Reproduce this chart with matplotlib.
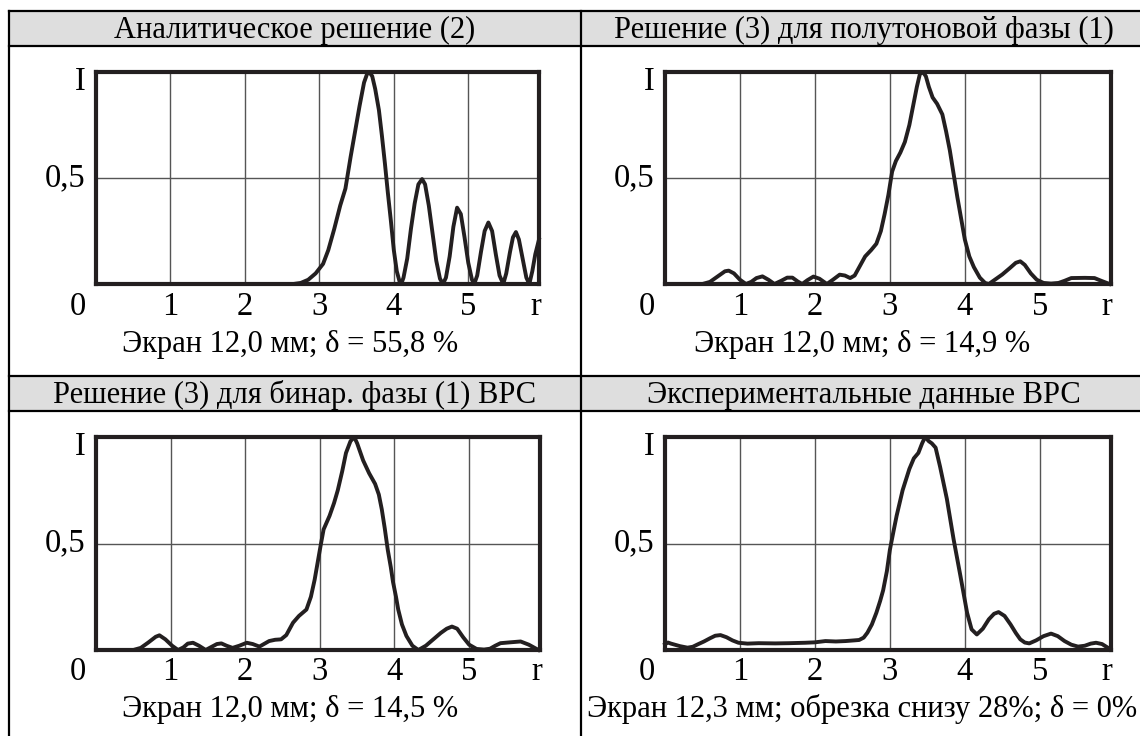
import numpy as np
import matplotlib.pyplot as plt
from matplotlib.lines import Line2D
from matplotlib.patches import Rectangle
import matplotlib.transforms as mtransforms

plt.rcParams['font.family'] = ['Liberation Serif', 'DejaVu Serif']

W, H = 1140, 736

# --- data ---
titles = ['Аналитическое решение (2)',
          'Решение (3) для полутоновой фазы (1)',
          'Решение (3) для бинар. фазы (1) ВРС',
          'Экспериментальные данные ВРС']
captions = ['Экран 12,0 мм; δ = 55,8 %',
            'Экран 12,0 мм; δ = 14,9 %',
            'Экран 12,0 мм; δ = 14,5 %',
            'Экран 12,3 мм; обрезка снизу 28%; δ = 0%']
xtick_vals = [1, 2, 3, 4, 5]
xtick_labels = ['1', '2', '3', '4', '5']

r1 = [0, 2.65, 2.75, 2.85, 2.95, 3.05, 3.12, 3.2, 3.28, 3.35, 3.42, 3.48, 3.54,
      3.6, 3.64, 3.67, 3.71, 3.75, 3.8, 3.84, 3.88, 3.92, 3.96, 4.0, 4.04, 4.08,
      4.1, 4.13, 4.18, 4.23, 4.28, 4.33, 4.38, 4.42, 4.47, 4.52, 4.57, 4.62,
      4.66, 4.7, 4.75, 4.8, 4.85, 4.9, 4.95, 5.0, 5.05, 5.08, 5.12, 5.17, 5.22,
      5.27, 5.32, 5.37, 5.42, 5.47, 5.51, 5.56, 5.6, 5.64, 5.68, 5.73, 5.78,
      5.82, 5.86, 5.9, 5.95]
i1 = [0, 0, 0.005, 0.02, 0.05, 0.095, 0.16, 0.26, 0.37, 0.45, 0.6, 0.72, 0.84,
      0.95, 0.99, 1.0, 0.98, 0.92, 0.82, 0.7, 0.57, 0.43, 0.3, 0.16, 0.06, 0.008,
      0.0, 0.03, 0.12, 0.26, 0.38, 0.47, 0.495, 0.47, 0.37, 0.24, 0.11, 0.025,
      0.0, 0.03, 0.13, 0.27, 0.36, 0.33, 0.22, 0.1, 0.02, 0.0, 0.04, 0.15, 0.25,
      0.29, 0.25, 0.14, 0.04, 0.0, 0.05, 0.15, 0.22, 0.245, 0.21, 0.12, 0.03,
      0.0, 0.06, 0.14, 0.21]

r2 = [0, 0.5, 0.6, 0.7, 0.8, 0.85, 0.92, 1.0, 1.08, 1.15, 1.22, 1.3, 1.38, 1.46,
      1.55, 1.63, 1.7, 1.77, 1.83, 1.9, 1.98, 2.06, 2.16, 2.24, 2.33, 2.4, 2.47,
      2.53, 2.6, 2.67, 2.75, 2.82, 2.88, 2.93, 2.98, 3.03, 3.08, 3.14, 3.2, 3.26,
      3.31, 3.36, 3.4, 3.44, 3.48, 3.52, 3.57, 3.63, 3.7, 3.75, 3.8, 3.85, 3.9,
      3.95, 4.0, 4.06, 4.12, 4.2, 4.27, 4.32, 4.4, 4.5, 4.6, 4.68, 4.74, 4.8,
      4.88, 4.96, 5.05, 5.15, 5.25, 5.33, 5.42, 5.6, 5.73, 5.82, 5.93]
i2 = [0, 0, 0.01, 0.035, 0.06, 0.063, 0.05, 0.02, 0.0, 0.01, 0.028, 0.036, 0.02,
      0.0, 0.015, 0.03, 0.03, 0.012, 0.0, 0.018, 0.035, 0.025, 0.0, 0.02, 0.044,
      0.04, 0.028, 0.04, 0.085, 0.13, 0.16, 0.19, 0.25, 0.33, 0.42, 0.53, 0.58,
      0.62, 0.67, 0.75, 0.84, 0.93, 0.99, 1.0, 0.98, 0.93, 0.88, 0.85, 0.8,
      0.72, 0.63, 0.52, 0.41, 0.31, 0.21, 0.13, 0.08, 0.03, 0.005, 0.0, 0.02,
      0.045, 0.075, 0.1, 0.107, 0.09, 0.05, 0.02, 0.005, 0.002, 0.005, 0.015,
      0.028, 0.029, 0.028, 0.015, 0.0]

r3 = [0, 0.5, 0.6, 0.7, 0.8, 0.85, 0.93, 1.02, 1.1, 1.17, 1.23, 1.3, 1.38, 1.47,
      1.55, 1.62, 1.68, 1.75, 1.83, 1.92, 2.02, 2.1, 2.19, 2.26, 2.32, 2.4, 2.48,
      2.55, 2.64, 2.72, 2.82, 2.88, 2.93, 2.97, 3.01, 3.05, 3.13, 3.19, 3.24,
      3.3, 3.35, 3.41, 3.46, 3.5, 3.54, 3.58, 3.66, 3.74, 3.79, 3.83, 3.87, 3.91,
      3.95, 3.98, 4.02, 4.05, 4.1, 4.16, 4.24, 4.32, 4.42, 4.52, 4.62, 4.7, 4.77,
      4.84, 4.92, 5.0, 5.1, 5.2, 5.28, 5.35, 5.42, 5.55, 5.69, 5.8, 5.93]
i3 = [0, 0, 0.01, 0.035, 0.062, 0.069, 0.05, 0.02, 0.0, 0.012, 0.03, 0.034,
      0.02, 0.0, 0.015, 0.028, 0.031, 0.02, 0.01, 0.02, 0.034, 0.028, 0.016,
      0.03, 0.042, 0.048, 0.05, 0.07, 0.128, 0.16, 0.19, 0.25, 0.33, 0.41, 0.49,
      0.566, 0.63, 0.69, 0.75, 0.84, 0.925, 0.98, 1.0, 0.97, 0.93, 0.89, 0.83,
      0.78, 0.73, 0.66, 0.57, 0.47, 0.39, 0.32, 0.25, 0.19, 0.12, 0.066, 0.02,
      0.0, 0.02, 0.05, 0.08, 0.1, 0.11, 0.1, 0.06, 0.025, 0.005, 0.002, 0.006,
      0.02, 0.032, 0.036, 0.04, 0.025, 0.0]

r4 = [0, 0.04, 0.08, 0.13, 0.2, 0.3, 0.37, 0.44, 0.52, 0.6, 0.67, 0.74, 0.82,
      0.9, 0.98, 1.1, 1.25, 1.47, 1.65, 1.87, 2.0, 2.14, 2.28, 2.41, 2.52, 2.59,
      2.65, 2.7, 2.76, 2.82, 2.87, 2.91, 2.96, 3.0, 3.05, 3.09, 3.17, 3.26, 3.32,
      3.38, 3.43, 3.47, 3.52, 3.56, 3.61, 3.67, 3.76, 3.85, 3.94, 4.03, 4.09,
      4.16, 4.24, 4.32, 4.39, 4.45, 4.53, 4.61, 4.68, 4.74, 4.8, 4.86, 4.95,
      5.05, 5.15, 5.24, 5.33, 5.42, 5.51, 5.6, 5.68, 5.75, 5.83, 5.93]
i4 = [0.027, 0.035, 0.03, 0.025, 0.018, 0.011, 0.015, 0.027, 0.04, 0.055,
      0.067, 0.07, 0.06, 0.045, 0.034, 0.03, 0.032, 0.031, 0.032, 0.034, 0.036,
      0.042, 0.04, 0.042, 0.045, 0.047, 0.058, 0.081, 0.12, 0.175, 0.23, 0.28,
      0.37, 0.47, 0.56, 0.63, 0.75, 0.85, 0.9, 0.925, 0.97, 1.0, 0.98, 0.97,
      0.95, 0.86, 0.71, 0.52, 0.35, 0.175, 0.097, 0.073, 0.1, 0.144, 0.17,
      0.178, 0.16, 0.12, 0.08, 0.05, 0.035, 0.031, 0.045, 0.065, 0.077, 0.065,
      0.042, 0.025, 0.016, 0.02, 0.03, 0.034, 0.028, 0.006]

radii = [r1, r2, r3, r4]
intens = [i1, i2, i3, i4]

# --- layout (pixels) ---
boxes = [(96, 72, 539, 284), (665, 72, 1111, 284),
         (96, 437, 540, 650), (665, 437, 1111, 650)]
col_centers = [295, 864]
cap_centers = [290, 862]
head_base = [38, 403]
cap_base = [352, 717]
tick_base = [315, 680]
fs_head, fs_tick = 22, 23.5

ink = '#231f20'
fig = plt.figure(figsize=(W / 100, H / 100), dpi=100)


def fx(x):
    return x / W


def fy(y):
    return 1 - y / H


# table: gray header bands and lines
for top, bot in [(11, 46), (376, 411)]:
    fig.add_artist(Rectangle((fx(9), fy(bot)), fx(W) - fx(9), fy(top) - fy(bot),
                             transform=fig.transFigure, facecolor='#dedede',
                             edgecolor='none', zorder=0))
for y in [11, 46, 376, 411]:
    fig.add_artist(Line2D([fx(9), 1], [fy(y), fy(y)], color='black', lw=1.6,
                          transform=fig.transFigure))
for x in [9, 581]:
    fig.add_artist(Line2D([fx(x), fx(x)], [fy(11), 0], color='black', lw=1.6,
                          transform=fig.transFigure))

for k in range(4):
    col, row = k % 2, k // 2
    x0, y0, x1, y1 = boxes[k]
    ax = fig.add_axes([fx(x0), fy(y1), fx(x1) - fx(x0), fy(y0) - fy(y1)])
    ax.plot(radii[k], intens[k], color=ink, lw=2.8, solid_joinstyle='round',
            clip_on=False, zorder=3)
    ax.set_xlim(0, 5.95)
    ax.set_ylim(0, 1)
    ax.set_xticks(xtick_vals)
    ax.set_yticks([0.5])
    ax.grid(True, color='#555555', lw=1.0)
    ax.tick_params(length=0, labelbottom=False, labelleft=False)
    for s in ax.spines.values():
        s.set_linewidth(3.0)
        s.set_color(ink)
        s.set_zorder(4)

    bw = x1 - x0
    bh = y1 - y0
    trans = mtransforms.blended_transform_factory(ax.transData, ax.transAxes)
    yb = -(tick_base[row] - y1) / bh
    for v, lab in zip(xtick_vals, xtick_labels):
        ax.text(v, yb, lab, transform=trans, ha='center', va='baseline',
                fontsize=fs_tick)
    ax.text(5.9, yb, 'r', transform=trans, ha='center', va='baseline',
            fontsize=fs_tick)
    ax.text(-18 / bw, yb, '0', transform=ax.transAxes, ha='center',
            va='baseline', fontsize=fs_tick)
    ax.text(-11 / bw, 0.5, '0,5', transform=ax.transAxes, ha='right',
            va='center', fontsize=fs_tick)
    ax.text(-16 / bw, 1 - 10 / bh, 'I', transform=ax.transAxes, ha='center',
            va='center', fontsize=fs_tick)

    fig.text(fx(col_centers[col]), fy(head_base[row]), titles[k],
             ha='center', va='baseline', fontsize=fs_head)
    fig.text(fx(cap_centers[col]), fy(cap_base[row]), captions[k],
             ha='center', va='baseline', fontsize=fs_head)

fig.savefig('out.png', dpi=100)
